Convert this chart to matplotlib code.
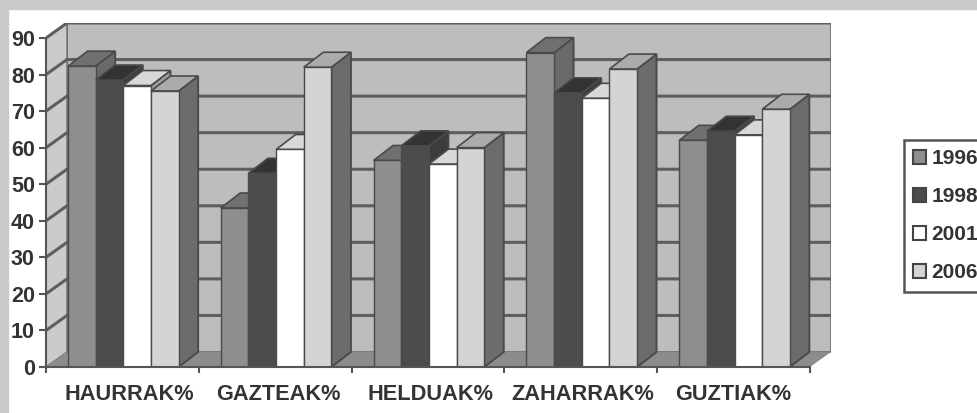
import matplotlib
matplotlib.use('Agg')
import matplotlib.pyplot as plt
from matplotlib.patches import Polygon, Rectangle, Patch

plt.rcParams['font.family'] = ['Liberation Sans', 'DejaVu Sans']

categories = ['HAURRAK%', 'GAZTEAK%', 'HELDUAK%', 'ZAHARRAK%', 'GUZTIAK%']
years = ['1996', '1998', '2001', '2006']
v1996 = [82.3, 43.5, 56.5, 86, 62]
v1998 = [78.5, 53, 60.5, 75, 64.5]
v2001 = [77, 59.5, 55.5, 73.5, 63.5]
v2006 = [75.5, 82, 60, 81.5, 70.5]
yticks = [0, 10, 20, 30, 40, 50, 60, 70, 80, 90]

series = [v1996, v1998, v2001, v2006]
front_cols = ['#8e8e8e', '#4c4c4c', '#ffffff', '#d4d4d4']
top_cols = ['#707070', '#333333', '#d8d8d8', '#ababab']
side_cols = ['#6a6a6a', '#3c3c3c', '#a0a0a0', '#6c6c6c']
edge = '#4a4a4a'

W, H = 978, 413
fig = plt.figure(figsize=(W / 100, H / 100), dpi=100, facecolor='white')
fig.patches.append(Rectangle((0, 1 - 9 / H), 1, 9 / H, transform=fig.transFigure, color='#c9cacc', zorder=0))
fig.patches.append(Rectangle((0, 0), 8 / W, 1, transform=fig.transFigure, color='#c9cacc', zorder=0))

ax = fig.add_axes([46 / W, (H - 367) / H, 785 / W, 344 / H])
ax.patch.set_alpha(0)

cat_px = 152.8
depth_x = 21 / cat_px
depth_y = 15 / 3.66
n = len(categories)
ax.set_xlim(0, n + depth_x)
ax.set_ylim(0, 90 + depth_y)

# walls and floor
ymax = yticks[-1]
ax.add_patch(Polygon([(depth_x, depth_y), (n + depth_x, depth_y), (n + depth_x, ymax + depth_y), (depth_x, ymax + depth_y)],
                     fc='#bdbdbd', ec='#6e6e6e', lw=1.2, zorder=1))
ax.add_patch(Polygon([(0, 0), (depth_x, depth_y), (depth_x, ymax + depth_y), (0, ymax)],
                     fc='#cbcbcb', ec='#6e6e6e', lw=1, zorder=1))
ax.add_patch(Polygon([(0, 0), (n, 0), (n + depth_x, depth_y), (depth_x, depth_y)],
                     fc='#8c8c8c', ec='none', zorder=2))
for t in yticks[1:]:
    ax.plot([0, depth_x, n + depth_x], [t, t + depth_y, t + depth_y], color='#5e5e5e', lw=2.2, zorder=2,
            solid_capstyle='butt')

# bars, left to right so the next one hides the side of the previous
bar_w = 0.181
bar_x0 = 22 / cat_px
bar_dx = 19.5 / cat_px
bar_dy = 15 / 3.66
z = 3
for g in range(n):
    for s, vals in enumerate(series):
        x = g + bar_x0 + s * bar_w
        h = vals[g]
        side = [(x + bar_w, 0), (x + bar_w + bar_dx, bar_dy), (x + bar_w + bar_dx, h + bar_dy), (x + bar_w, h)]
        top = [(x, h), (x + bar_w, h), (x + bar_w + bar_dx, h + bar_dy), (x + bar_dx, h + bar_dy)]
        ax.add_patch(Polygon(side, fc=side_cols[s], ec=edge, lw=1.4, zorder=z))
        ax.add_patch(Polygon(top, fc=top_cols[s], ec=edge, lw=1.2, zorder=z))
        ax.bar(x, h, bar_w, align='edge', color=front_cols[s], edgecolor=edge, linewidth=1.0, zorder=z + 0.5)
        z += 1

for name in ['top', 'right']:
    ax.spines[name].set_visible(False)
ax.spines['left'].set_bounds(0, ymax)
ax.spines['bottom'].set_bounds(0, n)
for name in ['left', 'bottom']:
    ax.spines[name].set_color('#555555')
    ax.spines[name].set_linewidth(1.5)
    ax.spines[name].set_zorder(50)

ax.set_yticks(yticks)
ax.set_yticklabels([str(t) for t in yticks], fontsize=15.5, fontweight='bold', color='#333333')
ax.set_xticks(range(n + 1))
ax.set_xticklabels([])
ax.set_xticks([i + 0.5 for i in range(n)], minor=True)
ax.set_xticklabels(categories, minor=True, fontsize=15.7, fontweight='bold', color='#333333')
ax.tick_params(axis='y', length=5, width=1.5, color='#555555', pad=3)
ax.tick_params(axis='x', which='major', length=4, width=1.5, color='#555555')
ax.tick_params(axis='x', which='minor', length=0, pad=12)
# the reference labels sit a little right of the category centres
label_shift = [7, 3, 3, 2, 0]
for lab, dx in zip(ax.get_xticklabels(minor=True), label_shift):
    lab.set_transform(lab.get_transform() + matplotlib.transforms.ScaledTranslation(dx / 100, 0, fig.dpi_scale_trans))

handles = [Patch(fc=front_cols[i], ec='#444444', lw=1.5) for i in range(len(years))]
leg = fig.legend(handles, years, loc='upper left', bbox_to_anchor=(904 / W, (H - 140) / H), borderaxespad=0,
                 prop={'weight': 'bold', 'size': 15}, handlelength=0.6, handleheight=0.6,
                 handletextpad=0.28, labelspacing=0.91, borderpad=0.45, fancybox=False,
                 edgecolor='#555555', framealpha=1)
leg.get_frame().set_linewidth(1.8)
for t in leg.get_texts():
    t.set_color('#333333')

fig.savefig('out.png', dpi=100)
